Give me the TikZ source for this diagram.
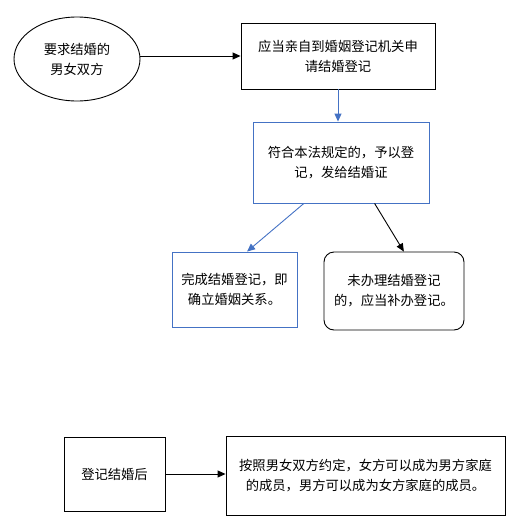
\documentclass[tikz,border=0pt]{standalone}
\usepackage{fontspec}
\newfontfamily\cjk{Noto Sans CJK SC}
\usetikzlibrary{arrows.meta, shapes.geometric, calc}
\definecolor{boxblue}{RGB}{68,114,196}

\begin{document}
\begin{tikzpicture}[
    x=1pt, y=-1pt, ->, >={Triangle[length=8pt, width=7pt]}, line width=0.9pt,
    every node/.style={draw, align=center, inner sep=0pt, font=\cjk\fontsize{13.3}{20}\selectfont}
]
\useasboundingbox (0,0) rectangle (518,528);
\node (couple_both) [ellipse, minimum width=126, minimum height=84] at (77,59) {要求结婚的\\男女双方};
\node (apply_registration) [rectangle, minimum width=194, minimum height=66] at (338,56) {应当亲自到婚姻登记机关申\\请结婚登记};
\node (register_cert) [rectangle, draw=boxblue, minimum width=176, minimum height=81] at (341,162.5) {符合本法规定的，予以登\\记，发给结婚证};
\node (marriage_done) [rectangle, draw=boxblue, minimum width=125, minimum height=75] at (234.5,289.5) {完成结婚登记，即\\确立婚姻关系。};
\node (register_late) [rectangle, rounded corners=10pt, minimum width=140, minimum height=78] at (394,291) {未办理结婚登记\\的，应当补办登记。};

\node (after_register) [rectangle, minimum width=101, minimum height=74] at (114.5,474) {登记结婚后};
\node (family_member) [rectangle, minimum width=279, minimum height=79] at (365.5,475.5) {按照男女双方约定，女方可以成为男方家庭\\的成员，男方可以成为女方家庭的成员。};

\draw[->] (apply_registration.west -| couple_both.east) -- (apply_registration.west);
\draw[->, boxblue] (apply_registration.south) -- (apply_registration.south |- register_cert.north);
\draw[->, boxblue] ($(register_cert.south west)!0.29!(register_cert.south east)$) -- ($(marriage_done.north west)!0.6!(marriage_done.north east)$);
\draw[->] ($(register_cert.south west)!0.69!(register_cert.south east)$) -- ($(register_late.north west)!0.57!(register_late.north east)$);
\draw[->] (after_register.east) -- (after_register.east -| family_member.west);
\end{tikzpicture}
\end{document}
